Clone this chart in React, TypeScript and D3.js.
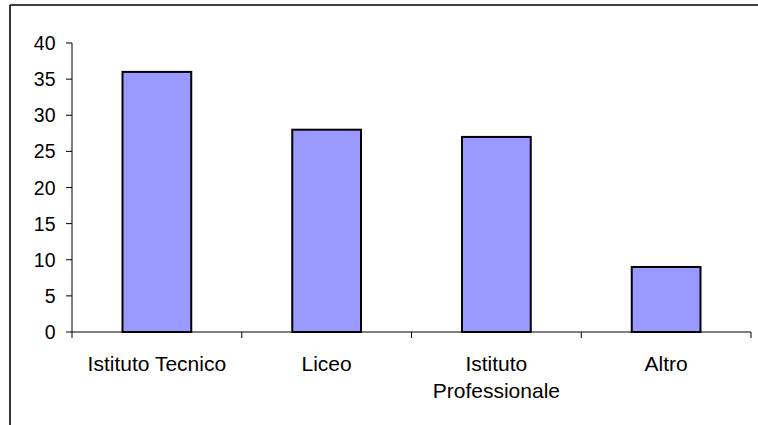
import React from "react";
import * as d3 from "d3";

const categories: string[][] = [
  ["Istituto Tecnico"],
  ["Liceo"],
  ["Istituto", "Professionale"],
  ["Altro"],
];
const values: number[] = [36, 28, 27, 9];
const yTicks: number[] = [0, 5, 10, 15, 20, 25, 30, 35, 40];

const W = 758;
const H = 425;
const left = 72;
const right = 751;
const top = 43;
const bottom = 332;
const font = "'Liberation Sans', Arial, sans-serif";

export default function App() {
  const keys = categories.map((_, i) => String(i));
  const x = d3.scaleBand<string>().domain(keys).range([left, right]).paddingInner(0).paddingOuter(0);
  const y = d3.scaleLinear().domain([0, 40]).range([bottom, top]);
  const bw = x.bandwidth() * 0.405;

  return (
    <svg width={W} height={H} style={{ position: "absolute", left: 0, top: 0, background: "#fff" }}>
      {/* outer frame: only the top and left edges fall inside the view */}
      <line x1={10} x2={W} y1={5} y2={5} stroke="#000" strokeWidth={1.6} />
      <line x1={10} x2={10} y1={5} y2={H} stroke="#000" strokeWidth={1.6} />
      {values.map((v, i) => {
        const cx = (x(String(i)) as number) + x.bandwidth() / 2;
        return (
          <rect
            key={i}
            x={cx - bw / 2}
            y={y(v)}
            width={bw}
            height={y(0) - y(v)}
            fill="#9999FF"
            stroke="#000"
            strokeWidth={2}
          />
        );
      })}
      {/* y axis */}
      <line x1={left} x2={left} y1={top} y2={bottom} stroke="#000" strokeWidth={1} />
      {yTicks.map((t) => (
        <g key={t}>
          <line x1={left - 6} x2={left} y1={y(t)} y2={y(t)} stroke="#000" strokeWidth={1} />
          <text x={55.5} y={y(t)} dy="0.36em" textAnchor="end" fontFamily={font} fontSize={19.5}>
            {t}
          </text>
        </g>
      ))}
      {/* x axis */}
      <line x1={left} x2={right} y1={bottom} y2={bottom} stroke="#000" strokeWidth={1} />
      {[...keys.map((k) => x(k) as number), right].map((px, i) => (
        <line key={i} x1={px} x2={px} y1={bottom} y2={bottom + 6} stroke="#000" strokeWidth={1} />
      ))}
      {categories.map((lines, i) => {
        const cx = (x(String(i)) as number) + x.bandwidth() / 2;
        return (
          <text key={i} x={cx} y={371} textAnchor="middle" fontFamily={font} fontSize={21}>
            {lines.map((l, j) => (
              <tspan key={j} x={cx} dy={j === 0 ? 0 : 26.5}>
                {l}
              </tspan>
            ))}
          </text>
        );
      })}
    </svg>
  );
}
